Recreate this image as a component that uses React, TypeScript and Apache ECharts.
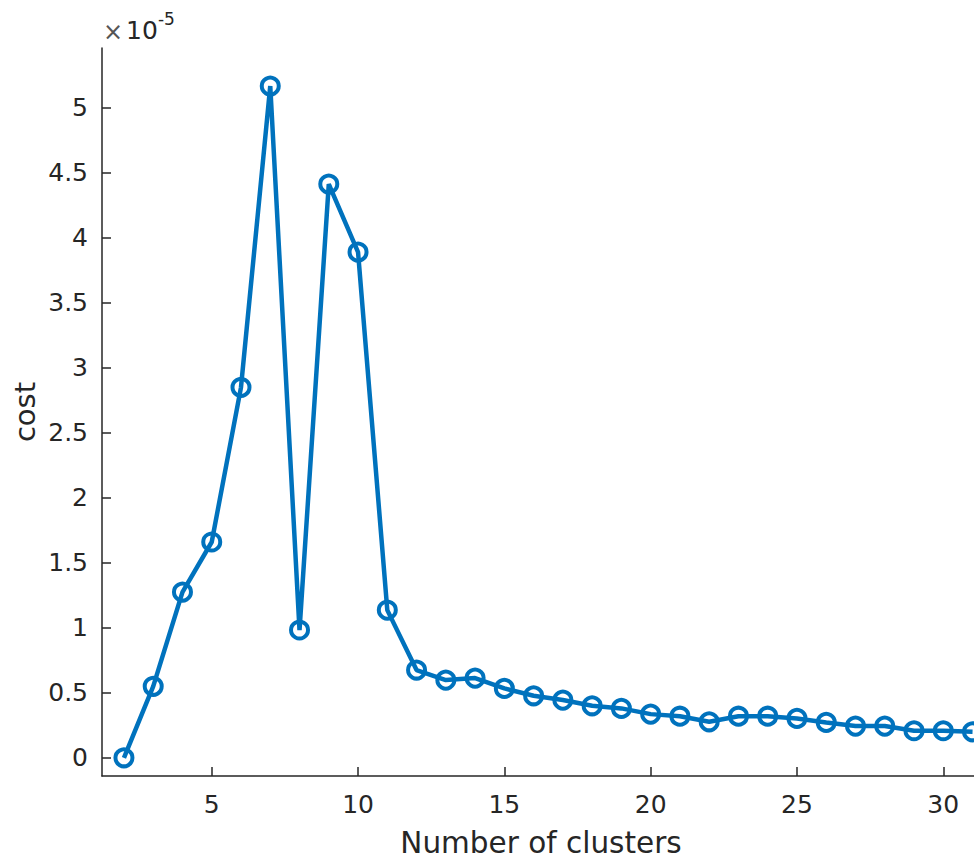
import React, { useEffect, useRef } from "react";
import * as echarts from "echarts";

// Number of clusters (x) and cost in units of 1e-5 (y)
const clusters = [2, 3, 4, 5, 6, 7, 8, 9, 10, 11, 12, 13, 14, 15, 16, 17, 18, 19, 20, 21, 22, 23, 24, 25, 26, 27, 28, 29, 30, 31];
const costScaled = [0.0, 0.55, 1.275, 1.66, 2.85, 5.167, 0.983, 4.413, 3.89, 1.136, 0.675, 0.598, 0.613, 0.534, 0.477, 0.444, 0.40, 0.38, 0.336, 0.32, 0.277, 0.32, 0.32, 0.303, 0.272, 0.244, 0.244, 0.208, 0.208, 0.20];
const xTicks = [5, 10, 15, 20, 25, 30];
const yTicks = [0, 0.5, 1, 1.5, 2, 2.5, 3, 3.5, 4, 4.5, 5];
const xTitle = "Number of clusters";
const yTitle = "cost";

const AXIS = "#262626";
const BLUE = "#0072BD";
const FONT = "DejaVu Sans";

export default function App() {
  const ref = useRef<HTMLDivElement>(null);
  useEffect(() => {
    document.body.style.margin = "0";
    const chart = echarts.init(ref.current!, null, { renderer: "svg" });
    const data = clusters.map((c, i) => [c, costScaled[i]]);
    chart.setOption({
      animation: false,
      backgroundColor: "#ffffff",
      grid: { left: 102, right: 0, top: 48, bottom: 85, containLabel: false },
      xAxis: {
        type: "value",
        min: 1.25,
        max: 31.05,
        axisLine: { show: true, onZero: false, lineStyle: { color: AXIS, width: 1.5 } },
        axisTick: { show: true, inside: true, length: 9, customValues: xTicks, lineStyle: { color: AXIS, width: 1.5 } },
        axisLabel: { customValues: xTicks, color: AXIS, fontSize: 25, fontFamily: FONT, margin: 16 },
        splitLine: { show: false },
      },
      yAxis: {
        type: "value",
        min: -0.14,
        max: 5.46,
        axisLine: { show: true, onZero: false, lineStyle: { color: AXIS, width: 1.5 } },
        axisTick: { show: true, inside: true, length: 9, customValues: yTicks, lineStyle: { color: AXIS, width: 1.5 } },
        axisLabel: { customValues: yTicks, color: AXIS, fontSize: 25, fontFamily: FONT, margin: 14 },
        splitLine: { show: false },
      },
      graphic: [
        {
          type: "text",
          x: 541,
          y: 843,
          style: { text: xTitle, fill: AXIS, font: `29.5px "${FONT}"`, textAlign: "center", textVerticalAlign: "middle" },
        },
        {
          type: "text",
          x: 25,
          y: 412,
          rotation: Math.PI / 2,
          style: { text: yTitle, fill: AXIS, font: `29px "${FONT}"`, textAlign: "center", textVerticalAlign: "middle" },
        },
        {
          type: "text",
          x: 103,
          y: 30,
          style: {
            text: "{a|×}{b|10}{c|-5}",
            textVerticalAlign: "middle",
            rich: {
              a: { fontSize: 24, fontFamily: FONT, fill: "#555555", padding: [4, 3, 0, 0] },
              b: { fontSize: 25, fontFamily: FONT, fill: AXIS },
              c: { fontSize: 17, fontFamily: FONT, fill: AXIS, padding: [0, 0, 22, 0] },
            },
          },
        },
      ],
      series: [
        {
          type: "line",
          data,
          symbol: "circle",
          symbolSize: 17,
          showAllSymbol: true,
          lineStyle: { color: BLUE, width: 4.5 },
          itemStyle: { color: "rgba(0,0,0,0)", borderColor: BLUE, borderWidth: 4 },
          emphasis: { disabled: true },
          clip: true,
        },
      ],
    });
    return () => chart.dispose();
  }, []);
  return <div ref={ref} style={{ width: 974, height: 861 }} />;
}
